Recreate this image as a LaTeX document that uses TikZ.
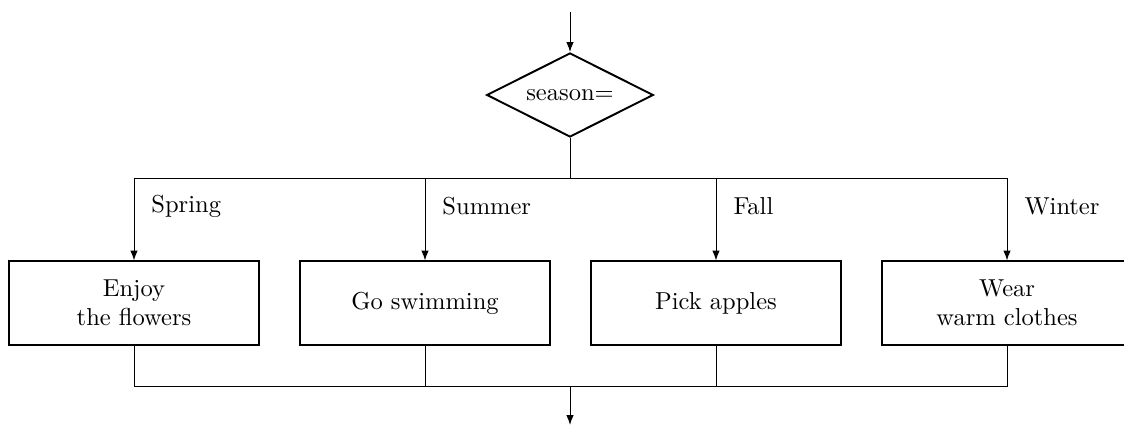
\documentclass[tikz,border=0pt]{standalone}
\usetikzlibrary{shapes.geometric,arrows.meta}
\begin{document}
\begin{tikzpicture}[x=0.408pt,y=-0.408pt,
  line width=0.4pt,
  flow/.style={-{Latex[length=4pt,width=3pt]}},
  actionbox/.style={draw,line width=0.8pt,minimum width=102pt,minimum height=33.9pt,
    inner sep=0pt,align=center},
  decision/.style={draw,diamond,line width=0.8pt,aspect=2,minimum width=68pt,
    minimum height=34.3pt,inner sep=0pt},
  caselabel/.style={anchor=west,inner sep=0pt}]
  \useasboundingbox (0,0) rectangle (1124,425);
  \clip (0,0) rectangle (1124,425);

  % decision and the four actions
  \node[decision] (d) at (570,95) {season=};
  \node[actionbox] (b1) at (134,303) {Enjoy\\the flowers};
  \node[actionbox] (b2) at (425,303) {Go swimming};
  \node[actionbox] (b3) at (716,303) {Pick apples};
  \node[actionbox] (b4) at (1007,303) {Wear\\warm clothes};

  % case labels beside the branches
  \node[caselabel] (l1) at (151,206) {Spring};
  \node[caselabel] (l2) at (442,206) {Summer};
  \node[caselabel] (l3) at (733,206) {Fall};
  \node[caselabel] (l4) at (1024,206) {Winter};

  % entry, split bus, join bus, exit
  \coordinate (start) at (570,12);
  \coordinate (split) at (570,178);
  \coordinate (join) at (570,386);
  \coordinate (exit) at (570,425);

  \draw[flow] (start) -- (d);
  \draw (d) -- (split);
  \foreach \b in {b1,b2,b3,b4} {
    \draw[flow] (split) -| (\b);
    \draw (\b) |- (join);
  }
  \draw[flow] (join) -- (exit);
\end{tikzpicture}
\end{document}
